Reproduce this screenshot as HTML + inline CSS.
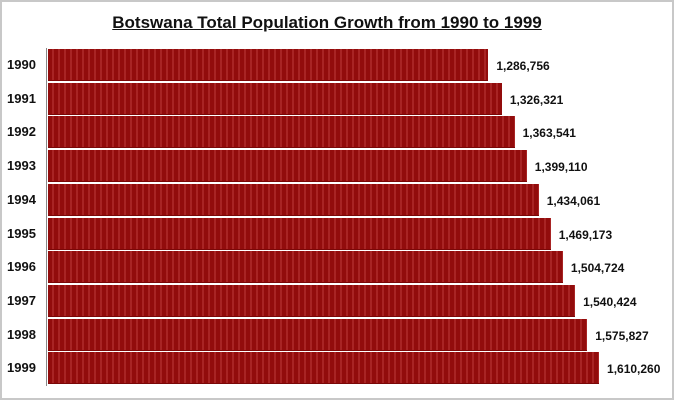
<!DOCTYPE html>
<html><head><style>
body{margin:0;background:#fff;}
#c{position:relative;width:670px;height:396px;border:2px solid #c8c8c8;background:#fff;font-family:"Liberation Sans",sans-serif;overflow:hidden;}
#t{position:absolute;left:-10px;width:670px;top:11px;text-align:center;font-weight:bold;font-size:17px;text-decoration:underline;color:#111;}
.ax{position:absolute;left:44px;top:46px;width:1px;height:338px;background:#888;}
.bar{position:absolute;left:46px;height:31px;background:repeating-linear-gradient(90deg,#920c0c 0px,#920c0c 4px,#a82424 4px,#a82424 6px);border-bottom:1px solid #7a0808;}
.y{position:absolute;left:5px;font-size:13px;font-weight:bold;color:#111;}
.v{position:absolute;font-size:12px;font-weight:bold;color:#111;}
</style></head><body><div id="c">
<div id="t">Botswana Total Population Growth from 1990 to 1999</div>
<div class="ax"></div>
<div id="bars"></div>
</div>
<script>
var d=[[1990,1286756],[1991,1326321],[1992,1363541],[1993,1399110],[1994,1434061],[1995,1469173],[1996,1504724],[1997,1540424],[1998,1575827],[1999,1610260]];
var h='';
d.forEach(function(r,i){var top=47+i*33.7;var w=r[1]*3.422e-4;
h+='<div class="bar" style="top:'+top+'px;width:'+w+'px"></div>';
h+='<div class="y" style="top:'+(top+8)+'px">'+r[0]+'</div>';
h+='<div class="v" style="left:'+(46+w+8)+'px;top:'+(top+10)+'px">'+r[1].toLocaleString('en-US')+'</div>';});
document.getElementById('bars').innerHTML=h;
</script>
</body></html>
